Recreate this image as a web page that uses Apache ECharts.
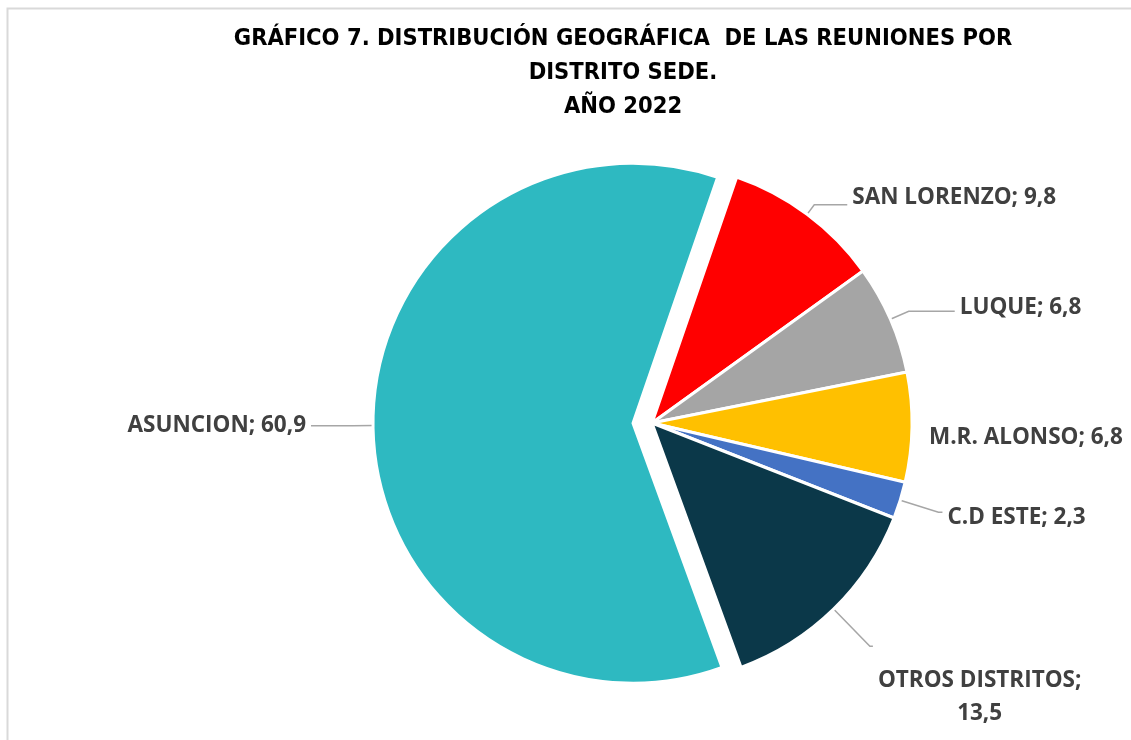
<!DOCTYPE html>
<html lang="es">
<head>
    <meta charset="utf-8">
</head>
<body style="margin: 0; background: #fff">
<div id="main" style="width: 1131px; height: 740px"></div>

<script type="text/javascript" src="https://cdn.jsdelivr.net/npm/echarts@6/dist/echarts.min.js"></script>
<script type="text/javascript">
    // datos del grafico
    var categories = ['SAN LORENZO', 'LUQUE', 'M.R. ALONSO', 'C.D ESTE', 'OTROS DISTRITOS', 'ASUNCION'];
    var values = [9.8, 6.8, 6.8, 2.3, 13.5, 60.9];
    var titleLines = ['GRÁFICO 7. DISTRIBUCIÓN GEOGRÁFICA  DE LAS REUNIONES POR', 'DISTRITO SEDE.', 'AÑO 2022'];

    var colors = ['#FF0000', '#A5A5A5', '#FFC000', '#4472C4', '#0B3849', '#2EB9C1'];

    // ajuste de las etiquetas (largo de lineas guia, desplazamiento)
    var labelTweaks = [
        { len: 12, len2: 33, pad: [0, 0, 14, 0] },
        { len: 20, len2: 46, pad: [0, 0, 8, 0] },
        { len: 5, len2: 7, pad: [20, 0, 0, 0], hideLine: true },
        { len: 40, len2: 4, pad: [10, 0, 0, 0] },
        { len: 52, len2: 3, pad: [102, 0, 0, 0], wrap: true },
        { len: 20, len2: 42, pad: [0, 0, 0, 0] }
    ];

    function fmt(v) {
        return v.toFixed(1).replace('.', ',');
    }

    var labelFont = {
        fontFamily: '"Open Sans", sans-serif',
        fontWeight: 'bold',
        fontSize: 22.5,
        color: '#404040',
        lineHeight: 33
    };

    var pieData = categories.map(function (name, i) {
        var tw = labelTweaks[i];
        return {
            name: name,
            value: values[i],
            selected: name === 'ASUNCION',
            itemStyle: { color: colors[i] },
            label: { padding: tw.pad },
            labelLine: { show: !tw.hideLine, length: tw.len, length2: tw.len2 }
        };
    });

    var chartDom = document.getElementById('main');
    var myChart = echarts.init(chartDom);
    var option = {
        animation: false,
        backgroundColor: '#fff',
        title: {
            text: titleLines.join('\n'),
            left: 623,
            top: 22,
            textAlign: 'center',
            padding: 0,
            textStyle: {
                fontFamily: '"DejaVu Sans Condensed", sans-serif',
                fontWeight: 'bold',
                fontSize: 23.5,
                lineHeight: 34,
                color: '#000'
            }
        },
        graphic: [{
            type: 'rect',
            silent: true,
            shape: { x: 7.5, y: 8.5, width: 1400, height: 1000 },
            style: { fill: null, stroke: '#D9D9D9', lineWidth: 2 }
        }],
        series: [{
            type: 'pie',
            center: [652, 423],
            radius: 260,
            startAngle: 71,
            clockwise: true,
            avoidLabelOverlap: false,
            selectedMode: 'single',
            selectedOffset: 19,
            emphasis: { disabled: true },
            select: { itemStyle: { borderColor: '#fff', borderWidth: 3 } },
            itemStyle: { borderColor: '#fff', borderWidth: 3 },
            label: {
                show: true,
                position: 'outside',
                formatter: function (p) {
                    var sep = labelTweaks[p.dataIndex].wrap ? '\n' : ' ';
                    var parts = (p.name + ';' + sep + fmt(p.value)).split('\n');
                    return parts.map(function (s) { return '{t|' + s + '}'; }).join('\n');
                },
                rich: {
                    t: Object.assign({ align: 'center' }, labelFont)
                }
            },
            labelLine: {
                show: true,
                smooth: false,
                lineStyle: { color: '#A6A6A6', width: 1.5 }
            },
            data: pieData
        }]
    };

    option && myChart.setOption(option);
</script>
</body>
</html>
